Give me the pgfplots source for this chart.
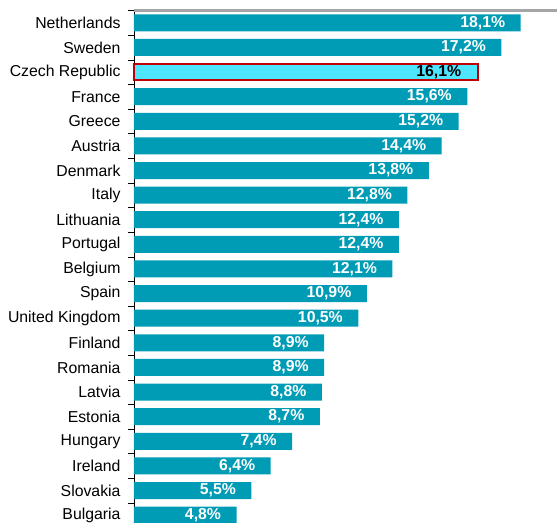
\documentclass[border=0pt]{standalone}
\usepackage{pgfplots}
\pgfplotsset{compat=1.18}
\usepackage{fontspec}
\setmainfont{Liberation Sans}
\definecolor{barteal}{RGB}{0,155,180}
\definecolor{hlcyan}{RGB}{77,229,255}
\definecolor{hlred}{RGB}{192,0,0}
\definecolor{topgray}{RGB}{165,165,165}

\begin{document}
\begin{tikzpicture}
\begin{axis}[
    scale only axis,
    width=423pt, height=512pt,
    clip=false,
    xbar, bar width=17pt,
    xmin=0, xmax=19.8,
    ymin=-0.5, ymax=20.3,
    y dir=reverse,
    hide x axis,
    axis y line*=left,
    ytick={0,...,20},
    yticklabels={Netherlands,Sweden,Czech Republic,France,Greece,Austria,Denmark,Italy,Lithuania,Portugal,Belgium,Spain,United Kingdom,Finland,Romania,Latvia,Estonia,Hungary,Ireland,Slovakia,Bulgaria},
    major tick length=0pt,
    minor ytick={-0.5,0.5,...,20.5},
    minor tick length=6pt,
    tick align=outside,
    tick style={black},
    y axis line style={black},
    yticklabel style={font=\fontsize{15.8}{18}\selectfont, xshift=-10pt},
    point meta=x,
    nodes near coords={\pgfmathprintnumber[fixed,fixed zerofill,precision=1,use comma,assume math mode=true]{\pgfplotspointmeta}\%},
    nodes near coords style={anchor=east, xshift=-12pt, font=\fontsize{15.8}{18}\selectfont\bfseries},
]
\addplot[draw=none, fill=barteal, bar shift=0pt, nodes near coords style={white}] coordinates {
(18.1,0) (17.2,1) (15.6,3) (15.2,4) (14.4,5) (13.8,6) (12.8,7)
(12.4,8) (12.4,9) (12.1,10) (10.9,11) (10.5,12) (8.9,13) (8.9,14)
(8.8,15) (8.7,16) (7.4,17) (6.4,18) (5.5,19) (4.8,20)
};
\addplot[draw=hlred, line width=2.8pt, fill=hlcyan, bar shift=0pt, bar width=16pt, nodes near coords style={black}] coordinates {
(16.1,2)
};
\draw[topgray, line width=2.5pt] (axis cs:0,-0.5) -- (axis cs:19.8,-0.5);
\coordinate (tl) at (axis cs:0,-0.5);
\coordinate (br) at (axis cs:19.8,20.3);
\end{axis}
\pgfresetboundingbox
\path ([xshift=-134pt]tl |- br) rectangle ([yshift=10.5pt]br |- tl);
\end{tikzpicture}
\end{document}
